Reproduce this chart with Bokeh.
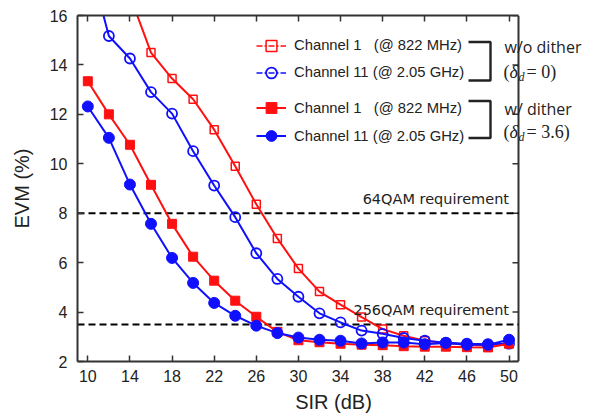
from bokeh.plotting import figure
from bokeh.models import Range1d, FixedTicker, LinearAxis, Label, Legend, LegendItem
from bokeh.embed import file_html
from bokeh.resources import INLINE

# ---------------- data ----------------
sir = [10, 12, 14, 16, 18, 20, 22, 24, 26, 28, 30,
       32, 34, 36, 38, 40, 42, 44, 46, 48, 50]

# Channel 1 (@ 822 MHz), w/o dither  (starts at 14 dB; 14 dB point is above the axis)
sir_ch1_nodither = sir[2:]
evm_ch1_nodither = [16.8, 14.5, 13.45, 12.61, 11.38, 9.9, 8.36, 6.98, 5.76,
                    4.83, 4.3, 3.8, 3.31, 3.04, 2.84, 2.75, 2.68, 2.65, 2.75]

# Channel 11 (@ 2.05 GHz), w/o dither (10 dB point is above the axis)
evm_ch11_nodither = [18.4, 15.17, 14.26, 12.9, 12.03, 10.51, 9.12, 7.84, 6.38,
                     5.34, 4.62, 3.95, 3.58, 3.25, 3.12, 2.95, 2.84, 2.76,
                     2.72, 2.7, 2.72]

# Channel 1 (@ 822 MHz), w/ dither
evm_ch1_dither = [13.34, 12.0, 10.77, 9.15, 7.57, 6.24, 5.27, 4.46, 3.81, 3.2,
                  2.86, 2.78, 2.72, 2.68, 2.66, 2.62, 2.6, 2.6, 2.58, 2.57,
                  2.72]

# Channel 11 (@ 2.05 GHz), w/ dither
evm_ch11_dither = [12.32, 11.05, 9.16, 7.57, 6.19, 5.18, 4.37, 3.85, 3.45,
                   3.15, 2.97, 2.88, 2.84, 2.73, 2.77, 2.77, 2.7, 2.75, 2.68,
                   2.68, 2.88]

x_ticks = [10, 14, 18, 22, 26, 30, 34, 38, 42, 46, 50]
y_ticks = [2, 4, 6, 8, 10, 12, 14, 16]

req_levels = [8, 3.5]
req_labels = ["64QAM requirement", "256QAM requirement"]

legend_labels = ["Channel 1\u00a0\u00a0 (@ 822 MHz)", "Channel 11 (@ 2.05 GHz)"]
group_labels = ["w/o dither", "w/ dither"]
delta_values = ["= 0)", "= 3.6)"]

RED = "#ff1010"
BLUE = "#1010ff"
INK = "#222222"
FRAME = "#333333"

# ---------------- geometry ----------------
W, H = 589, 415
FL, FR, FT, FB = 77, 518, 15, 361          # visible box edges in page pixels
XMIN, XVIS = 9.02, 50.90                   # x values at the visible box edges
YMIN, YMAX = 2, 16
SCALE = (FR - FL) / (XVIS - XMIN)          # px per dB
XEXT = XMIN + (W - FL) / SCALE             # frame runs to the window edge


def px2x(px):
    return XMIN + (px - FL) / SCALE


def py2y(py):
    return YMAX - (py - FT) * (YMAX - YMIN) / (FB - FT)


p = figure(width=W, height=H, output_backend="svg", toolbar_location=None,
           x_range=Range1d(XMIN, XEXT), y_range=Range1d(YMIN, YMAX),
           min_border_left=FL, min_border_right=0,
           min_border_top=FT, min_border_bottom=H - FB,
           x_axis_label="SIR (dB)", y_axis_label="EVM (%)")

p.background_fill_color = "white"
p.border_fill_color = "white"
p.outline_line_color = None
p.xgrid.grid_line_color = None
p.ygrid.grid_line_color = None


def style_axis(ax):
    ax.axis_line_color = FRAME
    ax.axis_line_width = 2
    ax.major_tick_line_color = FRAME
    ax.major_tick_line_width = 1.5
    ax.major_tick_in = 6
    ax.major_tick_out = 0
    ax.minor_tick_line_color = None
    ax.major_label_text_font = "Liberation Sans"
    ax.major_label_text_color = INK
    ax.major_label_text_font_size = "16px"
    ax.axis_label_text_font = "Liberation Sans"
    ax.axis_label_text_font_size = "20px"
    ax.axis_label_text_font_style = "normal"
    ax.axis_label_text_color = INK


p.xaxis.ticker = FixedTicker(ticks=x_ticks)
p.yaxis.ticker = FixedTicker(ticks=y_ticks)
for ax in p.xaxis + p.yaxis:
    style_axis(ax)
p.xaxis.bounds = (XMIN, XVIS)
p.yaxis.major_label_standoff = 10
p.yaxis.axis_label_standoff = 14
p.xaxis.major_label_standoff = 8
p.xaxis.axis_label_standoff = 6

top_ax = LinearAxis(ticker=FixedTicker(ticks=x_ticks), bounds=(XMIN, XVIS),
                    major_label_overrides={t: "" for t in x_ticks},
                    major_label_standoff=0)
style_axis(top_ax)
p.add_layout(top_ax, "above")

# right edge of the box and its inward ticks
p.line([XVIS, XVIS], [YMIN, YMAX], line_color=FRAME, line_width=2)
tick_len = 6 / SCALE
p.segment([XVIS] * len(y_ticks), y_ticks,
          [XVIS - tick_len] * len(y_ticks), y_ticks,
          line_color=FRAME, line_width=1.5)

# ---------------- requirement lines ----------------
p.segment([XMIN] * len(req_levels), req_levels,
          [XVIS] * len(req_levels), req_levels,
          line_color="black", line_width=2, line_dash="7 4")
for lvl, txt in zip(req_levels, req_labels):
    p.add_layout(Label(x=50, y=lvl, y_offset=14, text=txt,
                       text_align="right", text_baseline="middle",
                       text_font="DejaVu Sans", text_font_size="14.5px",
                       text_color=INK))

# ---------------- data series ----------------
p.line(sir_ch1_nodither, evm_ch1_nodither, line_color=RED, line_width=2)
s1 = p.scatter(sir_ch1_nodither, evm_ch1_nodither, marker="square", size=8,
               line_color=RED, line_width=1.5, fill_color=None)
p.line(sir, evm_ch11_nodither, line_color=BLUE, line_width=2)
s2 = p.scatter(sir, evm_ch11_nodither, marker="circle", size=10,
               line_color=BLUE, line_width=1.8, fill_color=None)
l3 = p.line(sir, evm_ch1_dither, line_color=RED, line_width=2)
s3 = p.scatter(sir, evm_ch1_dither, marker="square", size=9,
               line_color=RED, fill_color=RED)
l4 = p.line(sir, evm_ch11_dither, line_color=BLUE, line_width=2)
s4 = p.scatter(sir, evm_ch11_dither, marker="circle", size=11,
               line_color=BLUE, fill_color=BLUE)

# legend-only dash-dot lines for the "w/o dither" entries
nan = [float("nan")]
d1 = p.line(nan, nan, line_color=RED, line_width=1.5, line_dash="6 2 2 2")
d2 = p.line(nan, nan, line_color=BLUE, line_width=1.5, line_dash="6 2 2 2")


def make_legend(items, top_px, spacing):
    gh = 27
    n = len(items)
    height = n * gh + (n - 1) * spacing
    return Legend(items=items, location=(256 - FL, (FB - (top_px + height))),
                  orientation="vertical", glyph_width=30, glyph_height=gh,
                  label_height=gh, spacing=spacing, label_standoff=8,
                  padding=0, margin=0, border_line_color=None,
                  background_fill_alpha=0,
                  label_text_font="Liberation Sans",
                  label_text_font_size="14.8px", label_text_color=INK)


leg1 = make_legend([LegendItem(label=legend_labels[0], renderers=[d1, s1]),
                    LegendItem(label=legend_labels[1], renderers=[d2, s2])],
                   31.5, 0)
leg2 = make_legend([LegendItem(label=legend_labels[0], renderers=[l3, s3]),
                    LegendItem(label=legend_labels[1], renderers=[l4, s4])],
                   94, 1)
p.add_layout(leg1, "center")
p.add_layout(leg2, "center")

# ---------------- brackets and group notes ----------------
for (top_px, bot_px) in [(41.5, 80), (100.5, 137.5)]:
    p.line([px2x(468), px2x(490), px2x(490), px2x(468)],
           [py2y(top_px), py2y(top_px), py2y(bot_px), py2y(bot_px)],
           line_color=INK, line_width=2.4)

for gl, dv, (gy, dy) in zip(group_labels, delta_values, [(46.5, 71.5), (108.5, 131.5)]):
    p.add_layout(Label(x=px2x(504), y=py2y(gy), text=gl, text_align="left",
                       text_baseline="middle", text_font="Open Sans",
                       text_font_size="16px", text_color=INK))
    p.add_layout(Label(x=px2x(503), y=py2y(dy), text="(", text_align="left",
                       text_baseline="middle", text_font="Liberation Serif",
                       text_font_size="18px", text_color=INK))
    p.add_layout(Label(x=px2x(509), y=py2y(dy), text="\u03b4",
                       text_align="left", text_baseline="middle",
                       text_font="Liberation Serif", text_font_style="italic",
                       text_font_size="18px", text_color=INK))
    p.add_layout(Label(x=px2x(518), y=py2y(dy + 5), text="d",
                       text_align="left", text_baseline="middle",
                       text_font="Liberation Serif", text_font_style="italic",
                       text_font_size="12px", text_color=INK))
    p.add_layout(Label(x=px2x(526), y=py2y(dy), text=dv, text_align="left",
                       text_baseline="middle", text_font="Liberation Serif",
                       text_font_size="18px", text_color=INK))

open("out.html", "w").write(file_html(p, INLINE))
